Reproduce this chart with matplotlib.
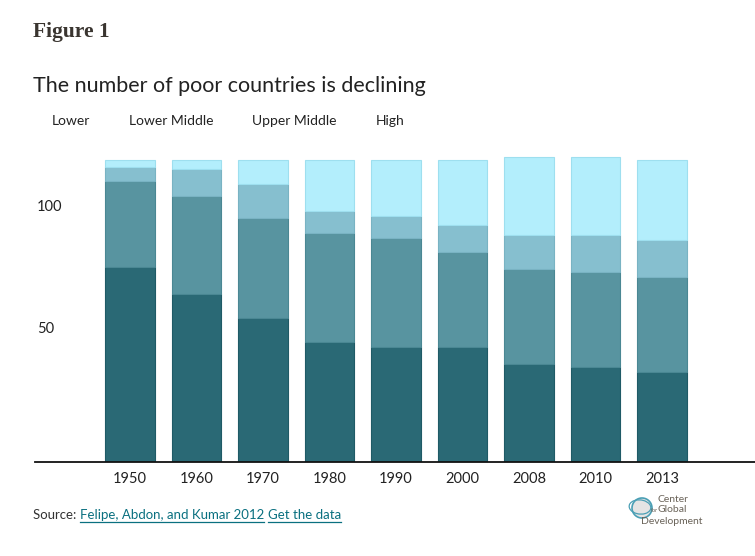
import matplotlib
matplotlib.use("Agg")
import matplotlib.pyplot as plt
import matplotlib.patches as mpatches
import matplotlib.transforms as mtransforms
from matplotlib.lines import Line2D
import numpy as np

# --- data (number of countries per income group) ---
years = ["1950", "1960", "1970", "1980", "1990", "2000", "2008", "2010", "2013"]
lower = [80, 69, 59, 49, 47, 47, 40, 39, 37]
lower_middle = [35, 40, 41, 45, 45, 39, 39, 39, 39]
upper_middle = [6, 11, 14, 9, 9, 11, 14, 15, 15]
high = [3, 4, 10, 21, 23, 27, 32, 32, 33]

groups = ["Lower", "Lower Middle", "Upper Middle", "High"]
ytick_values = [50, 100]

colors = ["#2a6975", "#5894a0", "#86bfcf", "#b3eefc"]
edges = ["#1f5a66", "#4a8793", "#79b3c3", "#9edfef"]

plt.rcParams['font.family'] = ['Lato', 'DejaVu Sans']

fig = plt.figure(figsize=(7.55, 5.56), dpi=100)
W, H = 755, 556

# axes: x from 35px to 755px, y from 150px to 462px
ax = fig.add_axes([35 / W, (H - 462) / H, (W - 35) / W, 312 / H])

x = np.arange(len(years))
bottom = np.zeros(len(years))
for vals, c, ec in zip([lower, lower_middle, upper_middle, high], colors, edges):
    ax.bar(x, vals, width=0.75, bottom=bottom, color=c, edgecolor=ec, linewidth=0.8)
    bottom += np.array(vals)

ax.set_xlim(-1.43, 9.4)
ax.set_ylim(0, 127.9)

for s in ["top", "right", "left"]:
    ax.spines[s].set_visible(False)
ax.spines["bottom"].set_linewidth(1.3)
ax.spines["bottom"].set_color("#111111")

ax.set_yticks([])
ax.set_xticks(x)
ax.set_xticklabels(years, fontsize=10.5, color="#222222")
ax.tick_params(axis="x", length=0, pad=7)

# y labels sit above their value, left aligned
off = mtransforms.offset_copy(ax.get_yaxis_transform(), fig=fig, x=0, y=8, units="points")
for v in ytick_values:
    ax.text(0.003, v, str(v), transform=off, ha="left", va="center",
            fontsize=10.5, color="#222222")

# headers
fig.text(33 / W, 1 - 32 / H, "Figure 1", fontsize=15.5, fontweight="bold",
         family="Liberation Serif", color="#3a3530", va="center")
fig.text(33 / W, 1 - 86 / H, "The number of poor countries is declining",
         fontsize=15.5, color="#222222", va="center")

legend_x = [52, 129, 252, 376]
for gx, g in zip(legend_x, groups):
    fig.text(gx / W, 1 - 121 / H, g, fontsize=10, color="#222222", va="center")

# source line
t0 = fig.text(33 / W, 1 - 515 / H, "Source: ", fontsize=9.5, color="#333333", va="center")
fig.canvas.draw()
r = fig.canvas.get_renderer()
link_color = "#0a7080"
bb = t0.get_window_extent(r)
xpos = bb.x1
for link in ["Felipe, Abdon, and Kumar 2012", "Get the data"]:
    t = fig.text(xpos / W, 1 - 515 / H, link, fontsize=9.5, color=link_color, va="center")
    b = t.get_window_extent(r)
    fig.add_artist(Line2D([b.x0 / W, b.x1 / W], [(b.y0 - 1) / H, (b.y0 - 1) / H],
                          transform=fig.transFigure, color=link_color, linewidth=0.9))
    xpos = b.x1 + 4

# logo
fig.add_artist(mpatches.Ellipse((642 / W, 1 - 508 / H), 20 / W, 20 / H,
                                transform=fig.transFigure, facecolor="#e4e4e4",
                                edgecolor="#4a9fb5", linewidth=1.2))
fig.add_artist(mpatches.Ellipse((640 / W, 1 - 507 / H), 22 / W, 14 / H, angle=-20,
                                transform=fig.transFigure, facecolor="none",
                                edgecolor="#4a9fb5", linewidth=0.9))
fig.text(657 / W, 1 - 500 / H, "Center", fontsize=7.5, color="#6a6359", va="center")
fig.text(651 / W, 1 - 510 / H, "for", fontsize=4, color="#6a6359", va="center")
fig.text(657 / W, 1 - 510 / H, "Global", fontsize=7.5, color="#6a6359", va="center")
fig.text(641 / W, 1 - 521 / H, "Development", fontsize=7.5, color="#6a6359", va="center")

fig.savefig("out.png", dpi=100)
